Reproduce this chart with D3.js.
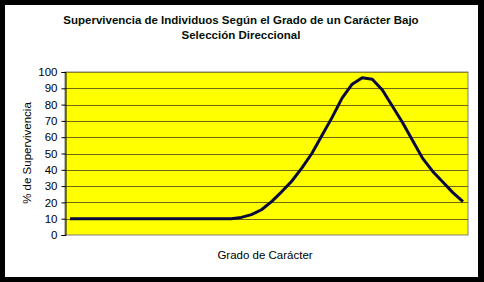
<!DOCTYPE html>
<html><head><meta charset="utf-8">
<script src="https://cdn.jsdelivr.net/npm/d3@7"></script>
<style>body{margin:0;background:#000}svg{display:block}</style>
</head><body>
<script>
const titleLines = ["Supervivencia de Individuos Según el Grado de un Carácter Bajo", "Selección Direccional"];
const yLabel = "% de Supervivencia";
const xLabel = "Grado de Carácter";
const yTicks = [0,10,20,30,40,50,60,70,80,90,100];
const categories = d3.range(1, 41);
const survival = [10,10,10,10,10,10,10,10,10,10,10,10,10,10,10,10,10,10.8,12.5,15.5,
                  20.5,26.5,33,41,50,61,72,84,92.5,96.5,95.5,89,79,69,58,47,39,32.5,26,20.5];

const W = 484, H = 282;
const svg = d3.select("body").append("svg").attr("width", W).attr("height", H);
svg.append("rect").attr("width", W).attr("height", H).attr("fill", "#000");
svg.append("rect").attr("x", 5).attr("y", 5).attr("width", 473).attr("height", 272).attr("fill", "#fff");

const m = {l: 65, r: 468, t: 72, b: 235};
const x = d3.scaleBand().domain(categories).range([m.l, m.r]);
const y = d3.scaleLinear().domain([0, 100]).range([m.b, m.t]);

svg.append("rect").attr("x", m.l).attr("y", m.t).attr("width", m.r - m.l).attr("height", m.b - m.t)
  .attr("fill", "#ffff00").attr("stroke", "#808080").attr("stroke-width", 1);

svg.append("g").selectAll("line").data(yTicks.filter(d => d > 0 && d < 100)).join("line")
  .attr("x1", m.l).attr("x2", m.r).attr("y1", d => Math.round(y(d)) + 0.5).attr("y2", d => Math.round(y(d)) + 0.5)
  .attr("stroke", "#6e6a10").attr("stroke-width", 1);
svg.append("line").attr("x1", m.l).attr("x2", m.r).attr("y1", Math.round(y(100))+0.5).attr("y2", Math.round(y(100))+0.5)
  .attr("stroke", "#8a8620");

const yAxis = d3.axisLeft(y).tickValues(yTicks).tickSize(4).tickPadding(4);
const ga = svg.append("g").attr("transform", `translate(${m.l + 0.5},0)`).call(yAxis);
ga.select(".domain").attr("stroke", "#000");
ga.selectAll(".tick line").attr("stroke", "#000");
ga.selectAll(".tick text").attr("font-family", "Liberation Sans, Arial, sans-serif").attr("font-size", 11.5).attr("fill", "#000");

const line = d3.line().x((d, i) => x(categories[i]) + x.bandwidth() / 2).y(d => y(d));
svg.append("path").datum(survival).attr("d", line).attr("fill", "none")
  .attr("stroke", "#0a0a3a").attr("stroke-width", 3).attr("stroke-linejoin", "round");

const tt = svg.append("text").attr("text-anchor", "middle").attr("font-family", "Liberation Sans, Arial, sans-serif")
  .attr("font-size", 11.5).attr("font-weight", "bold").attr("fill", "#061006");
titleLines.forEach((t, i) => tt.append("tspan").attr("x", 241).attr("y", 24 + i * 15).text(t));

svg.append("text").attr("transform", "translate(31,153) rotate(-90)").attr("text-anchor", "middle")
  .attr("font-family", "Liberation Sans, Arial, sans-serif").attr("font-size", 11.5).attr("fill", "#000").text(yLabel);
svg.append("text").attr("x", 265).attr("y", 259).attr("text-anchor", "middle")
  .attr("font-family", "Liberation Sans, Arial, sans-serif").attr("font-size", 11.5).attr("fill", "#000").text(xLabel);
</script>
</body></html>
